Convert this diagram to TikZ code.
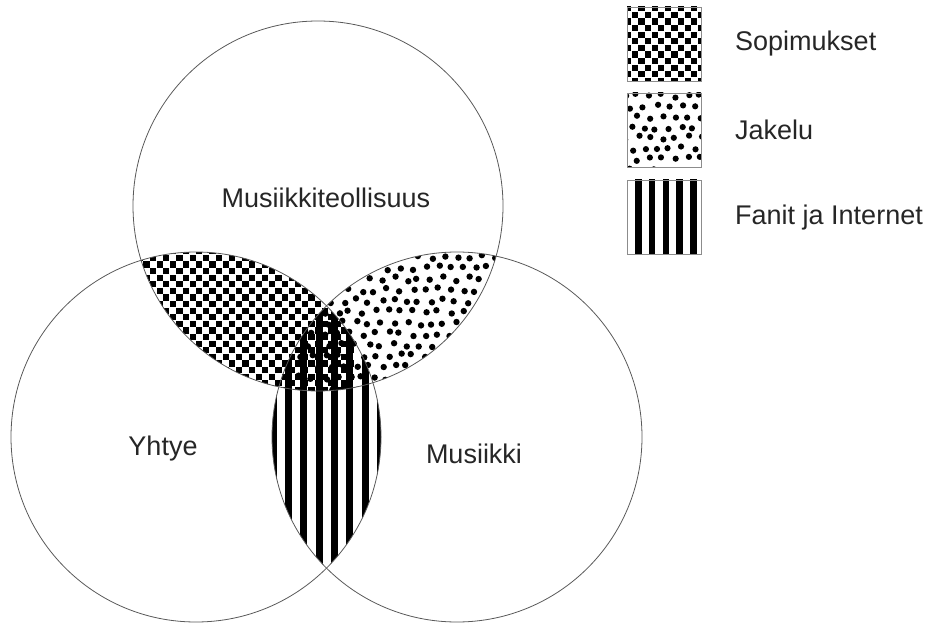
\documentclass[tikz,border=0pt]{standalone}
\usepackage{fontspec}
\setmainfont{Liberation Sans}
\begin{document}
\begin{tikzpicture}[x=1pt,y=-1pt,
  ring/.style={draw=black!65,line width=0.8pt},
  lbox/.style={draw=black!45,line width=0.8pt},
  lab/.style={font=\fontsize{27}{32}\selectfont,text=black!85,inner sep=0pt}]
\useasboundingbox (0,0) rectangle (925,628);
\coordinate (T) at (318,206);
\coordinate (L) at (196,437);
\coordinate (R) at (457,437);
\def\rad{185}
% checker: top and left
\begin{scope}
  \clip (T) circle (\rad);
  \clip (L) circle (\rad);
  \foreach \i in {0,...,33}{
    \foreach \j in {0,...,25}{
      \ifodd\numexpr\i+\j\relax\else
        \fill (130+\i*6.6+0.2,248+\j*6.6+0.2) rectangle ++(6.2,6.2);
      \fi
    }}
\end{scope}
% dots: top and right
\pgfmathsetseed{11}
\begin{scope}
  \clip (T) circle (\rad);
  \clip (R) circle (\rad);
  \foreach \j in {0,...,14}{
    \foreach \i in {0,...,16}{
      \pgfmathsetmacro\px{300+\i*12.5+mod(\j,2)*6.2+rand*2.6}
      \pgfmathsetmacro\py{246+\j*11+rand*2.6}
      \fill (\px,\py) circle (3.2);
    }}
\end{scope}
% stripes: left and right
\begin{scope}
  \clip (L) circle (\rad);
  \clip (R) circle (\rad);
  \foreach \i in {0,...,9}{
    \fill (254.5+\i*15.3,300) rectangle ++(7,280);
  }
\end{scope}
% circles
\draw[ring] (T) circle (\rad);
\draw[ring] (L) circle (\rad);
\draw[ring] (R) circle (\rad);
% labels
\node[lab] (mt) at (326,198) {Musiikkiteollisuus};
\node[lab] (yh) at (163,449) {Yhtye};
\node[lab] (mu) at (474,454) {Musiikki};
% legend boxes
\begin{scope}
  \clip (627,7) rectangle (701,81);
  \foreach \i in {0,...,11}{
    \foreach \j in {0,...,11}{
      \ifodd\numexpr\i+\j\relax\else
        \fill (625+\i*6.6+0.2,5+\j*6.6+0.2) rectangle ++(6.2,6.2);
      \fi
    }}
\end{scope}
\node[lbox,minimum size=74pt,inner sep=0pt] (b1) at (664,44) {};
\pgfmathsetseed{5}
\begin{scope}
  \clip (627,93) rectangle (701,167);
  \foreach \j in {0,...,7}{
    \foreach \i in {0,...,6}{
      \pgfmathsetmacro\px{625+\i*12.5+mod(\j,2)*6.2+rand*2.4}
      \pgfmathsetmacro\py{96+\j*10.5+rand*2.4}
      \fill (\px,\py) circle (3.1);
    }}
\end{scope}
\node[lbox,minimum size=74pt,inner sep=0pt] (b2) at (664,130) {};
\begin{scope}
  \clip (627,180) rectangle (701,254);
  \foreach \i in {0,...,4}{
    \fill (635+\i*13.75,178) rectangle ++(6.5,80);
  }
\end{scope}
\node[lbox,minimum size=74pt,inner sep=0pt] (b3) at (664,217) {};
\node[lab,anchor=west] (t1) at (735,44) {Sopimukset};
\node[lab,anchor=west] (t2) at (735,130) {Jakelu};
\node[lab,anchor=west] (t3) at (735,218) {Fanit ja Internet};
\end{tikzpicture}
\end{document}
